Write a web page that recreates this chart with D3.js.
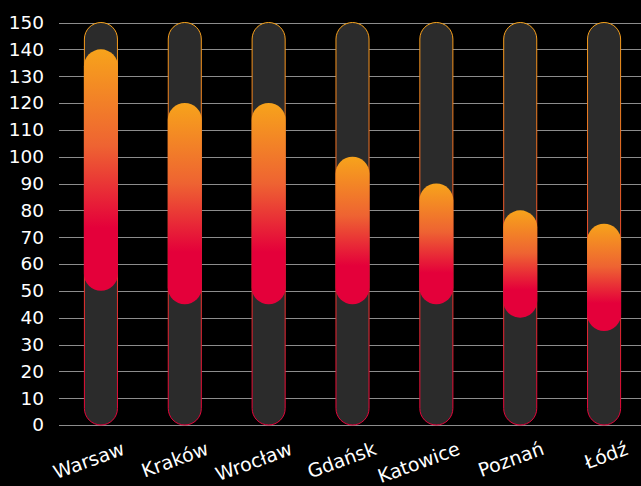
<!DOCTYPE html>
<html><head><meta charset="utf-8">
<script src="https://cdn.jsdelivr.net/npm/d3@7"></script>
<style>
html,body{margin:0;padding:0;background:#000;}
svg{display:block;}
text{font-family:"DejaVu Sans",sans-serif;fill:#fff;}
</style></head>
<body>
<svg id="chart" width="641" height="486"></svg>
<script>
const cities = ["Warsaw","Kraków","Wrocław","Gdańsk","Katowice","Poznań","Łódź"];
const lowValues = [50,45,45,45,45,40,35];
const highValues = [140,120,120,100,90,80,75];
const maxValue = 150;
const yTicks = [0,10,20,30,40,50,60,70,80,90,100,110,120,130,140,150];

const svg = d3.select("#chart");
const W = 641, H = 486;
const left = 59, right = 646;
const y = d3.scaleLinear().domain([0,maxValue]).range([425,22.5]);
const x = d3.scaleBand().domain(cities).range([left,right]).paddingInner(0.594).paddingOuter(0.297);

const defs = svg.append("defs");
const g1 = defs.append("linearGradient").attr("id","fg").attr("x1",0).attr("y1",0).attr("x2",0).attr("y2",1);
g1.append("stop").attr("offset","0").attr("stop-color","#f7a31b");
g1.append("stop").attr("offset","0.4").attr("stop-color","#ee6332");
g1.append("stop").attr("offset","0.74").attr("stop-color","#e4003a");
g1.append("stop").attr("offset","1").attr("stop-color","#e4003a");
const g2 = defs.append("linearGradient").attr("id","bgs").attr("gradientUnits","userSpaceOnUse")
  .attr("x1",0).attr("y1",y(maxValue)).attr("x2",0).attr("y2",y(0));
g2.append("stop").attr("offset","0").attr("stop-color","#f7a31b");
g2.append("stop").attr("offset","1").attr("stop-color","#e4003a");

// grid
svg.append("g").selectAll("line").data(yTicks).join("line")
  .attr("x1",left).attr("x2",W)
  .attr("y1",d=>Math.round(y(d))+0.5).attr("y2",d=>Math.round(y(d))+0.5)
  .attr("stroke","#8c8c8c").attr("stroke-width",1);

// y labels
const yAxis = d3.axisLeft(y).tickValues(yTicks).tickSize(0).tickPadding(0);
const ya = svg.append("g").attr("transform","translate(44,0)").call(yAxis);
ya.select(".domain").remove();
ya.selectAll("text").attr("font-size","18.5px").attr("fill","#fff").style("font-family","'DejaVu Sans',sans-serif");

const bw = x.bandwidth();
// background bars
svg.append("g").selectAll("rect").data(cities).join("rect")
  .attr("x",d=>x(d)+0.5).attr("width",bw-1)
  .attr("y",y(maxValue)).attr("height",y(0)-y(maxValue))
  .attr("rx",(bw-1)/2).attr("ry",(bw-1)/2)
  .attr("fill","#2b2b2b").attr("stroke","url(#bgs)").attr("stroke-width",1);

// range bars
svg.append("g").selectAll("rect").data(cities).join("rect")
  .attr("x",d=>x(d)).attr("width",bw)
  .attr("y",(d,i)=>y(highValues[i])).attr("height",(d,i)=>y(lowValues[i])-y(highValues[i]))
  .attr("rx",bw/2).attr("ry",bw/2)
  .attr("fill","url(#fg)");

// x labels
svg.append("g").selectAll("text").data(cities).join("text")
  .attr("transform",d=>`translate(${x(d)+bw/2+25},454) rotate(-20)`)
  .attr("text-anchor","end")
  .attr("font-size","19px")
  .text(d=>d);
</script>
</body></html>
